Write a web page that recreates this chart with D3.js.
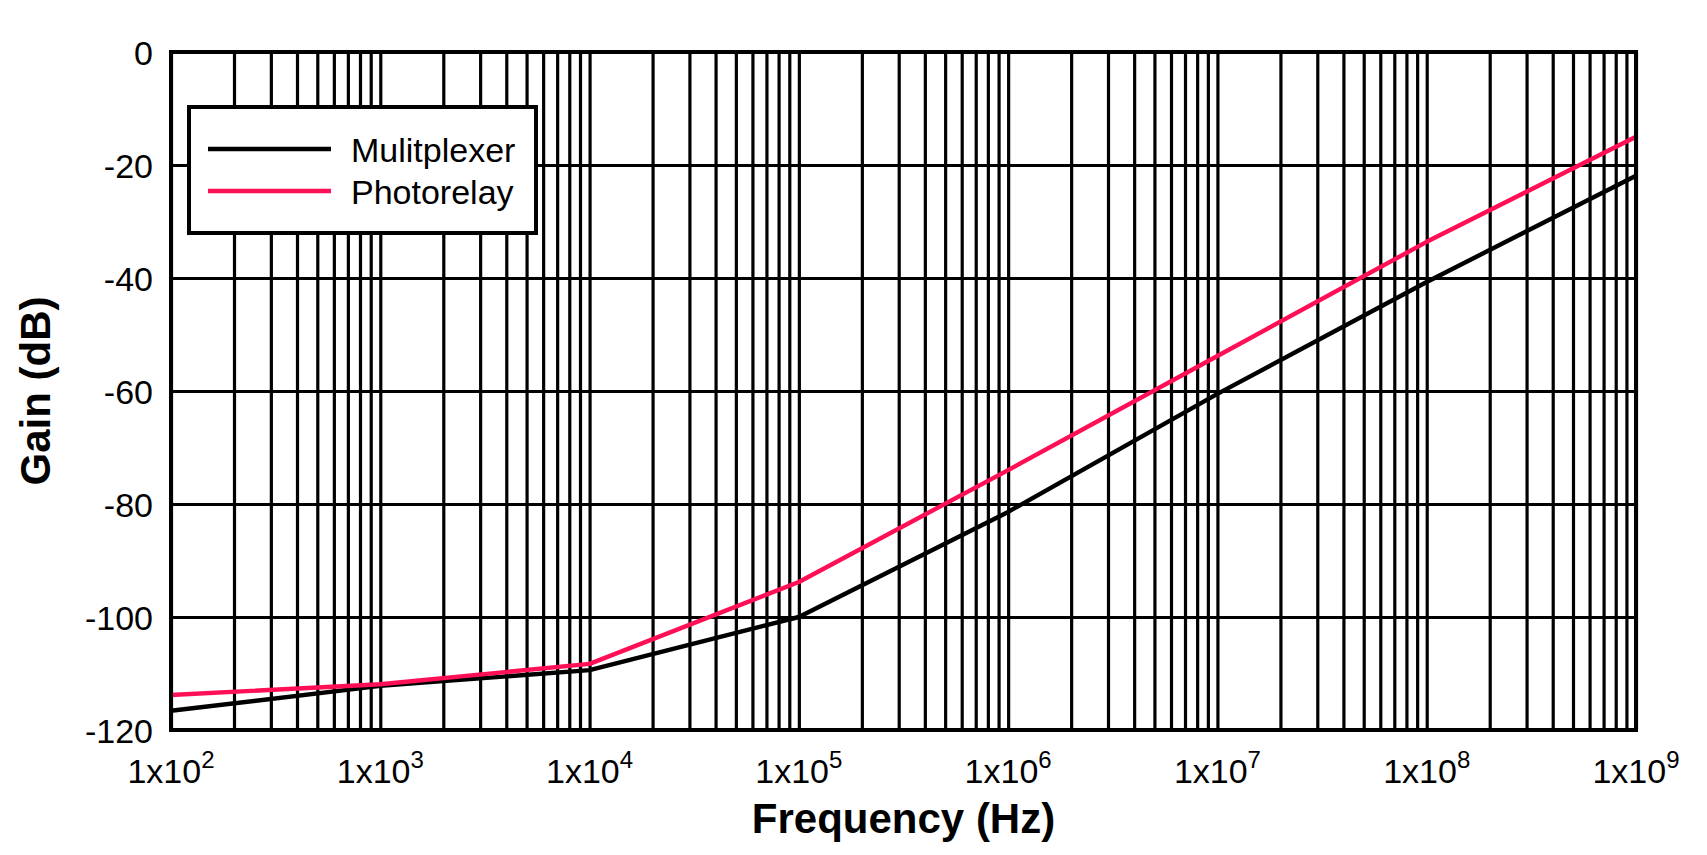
<!DOCTYPE html>
<html>
<head>
<meta charset="utf-8">
<script src="https://cdn.jsdelivr.net/npm/d3@7"></script>
<style>
  body { margin: 0; background: #fff; }
  svg text { font-family: "Liberation Sans", Arial, sans-serif; fill: #000; }
</style>
</head>
<body>
<svg id="chart"></svg>
<script>
// frequency points (Hz) and gain in dB
const freqs = [1e2, 1e3, 1e4, 1e5, 1e6, 1e7, 1e8, 1e9]
const multiplexer = [-116.6, -112.2, -109.4, -100.0, -81.4, -60.5, -40.7, -21.9]
const photorelay = [-113.8, -111.9, -108.3, -93.8, -74.0, -53.8, -33.6, -15.0]

const seriesNames = ['Mulitplexer', 'Photorelay']
const seriesColors = ['#000000', '#ff0f55']

const yTicks = [0, -20, -40, -60, -80, -100, -120]
const xTickExps = [2, 3, 4, 5, 6, 7, 8, 9]

//set up svg container
const width = 1707
const height = 855
const plotLeft = 171, plotRight = 1636, plotTop = 52, plotBottom = 730

const svg = d3.select('#chart')
              .attr('width', width)
              .attr('height', height)

//setting the scales
const xScale = d3.scaleLog()
                 .domain([1e2, 1e9])
                 .range([plotLeft, plotRight])

const yScale = d3.scaleLinear()
                 .domain([-120, 0])
                 .range([plotBottom, plotTop])

//grid values: 1..9 times each decade
const gridVals = []
xTickExps.slice(0, -1).forEach(e => {
    for (let m = 1; m < 10; m++) gridVals.push(m * Math.pow(10, e))
})
gridVals.push(1e9)

//vertical grid through the bottom axis
const xAxis = d3.axisBottom(xScale)
                .tickValues(gridVals)
                .tickSize(-(plotBottom - plotTop))
                .tickFormat('')

svg.append('g').call(xAxis)
   .attr('transform', `translate(0, ${plotBottom})`)
   .call(g => g.select('.domain').remove())
   .call(g => g.selectAll('.tick line').attr('stroke', '#000').attr('stroke-width', 3.2))

//horizontal grid through the left axis
const yAxis = d3.axisLeft(yScale)
                .tickValues(yTicks)
                .tickSize(-(plotRight - plotLeft))
                .tickPadding(18)
                .tickFormat(d => d)

svg.append('g').call(yAxis)
   .attr('transform', `translate(${plotLeft}, 0)`)
   .call(g => g.select('.domain').remove())
   .call(g => g.selectAll('.tick line').attr('stroke', '#000').attr('stroke-width', 3.2))
   .call(g => g.selectAll('.tick text')
               .attr('font-size', 34)
               .attr('font-family', '"Liberation Sans", Arial, sans-serif')
               .attr('fill', '#000')
               .attr('dy', '0.36em'))

//x tick labels with superscript exponents
const xLabels = svg.append('g')
   .selectAll('text')
   .data(xTickExps)
   .join('text')
   .attr('x', e => xScale(Math.pow(10, e)))
   .attr('y', 783)
   .attr('text-anchor', 'middle')
   .attr('font-size', 34)

xLabels.append('tspan').text('1x10')
xLabels.append('tspan')
       .attr('font-size', 24)
       .attr('dy', -15)
       .text(e => e)

//the curves
const line = d3.line()
               .x(d => xScale(d[0]))
               .y(d => yScale(d[1]))

const allSeries = [multiplexer, photorelay]
allSeries.forEach((vals, i) => {
    svg.append('path')
       .datum(freqs.map((f, j) => [f, vals[j]]))
       .attr('d', line)
       .attr('fill', 'none')
       .attr('stroke', seriesColors[i])
       .attr('stroke-width', 4.4)
       .attr('stroke-linejoin', 'round')
})

//plot border
svg.append('rect')
   .attr('x', plotLeft)
   .attr('y', plotTop)
   .attr('width', plotRight - plotLeft)
   .attr('height', plotBottom - plotTop)
   .attr('fill', 'none')
   .attr('stroke', '#000')
   .attr('stroke-width', 4)

//legend
const legend = svg.append('g')

legend.append('rect')
      .attr('x', 189)
      .attr('y', 107)
      .attr('width', 536 - 189)
      .attr('height', 233 - 107)
      .attr('fill', '#fff')
      .attr('stroke', '#000')
      .attr('stroke-width', 4)

seriesNames.forEach((name, i) => {
    const ly = 149 + i * 42
    legend.append('line')
          .attr('x1', 208)
          .attr('x2', 331)
          .attr('y1', ly)
          .attr('y2', ly)
          .attr('stroke', seriesColors[i])
          .attr('stroke-width', 4.5)
    legend.append('text')
          .attr('x', 351)
          .attr('y', ly + 13)
          .attr('font-size', 34)
          .text(name)
})

//axis titles
svg.append('text')
   .attr('x', (plotLeft + plotRight) / 2)
   .attr('y', 833)
   .attr('text-anchor', 'middle')
   .attr('font-size', 42)
   .attr('font-weight', 'bold')
   .text('Frequency (Hz)')

svg.append('text')
   .attr('transform', `translate(50, ${(plotTop + plotBottom) / 2}) rotate(-90)`)
   .attr('text-anchor', 'middle')
   .attr('font-size', 42)
   .attr('font-weight', 'bold')
   .text('Gain (dB)')
</script>
</body>
</html>
